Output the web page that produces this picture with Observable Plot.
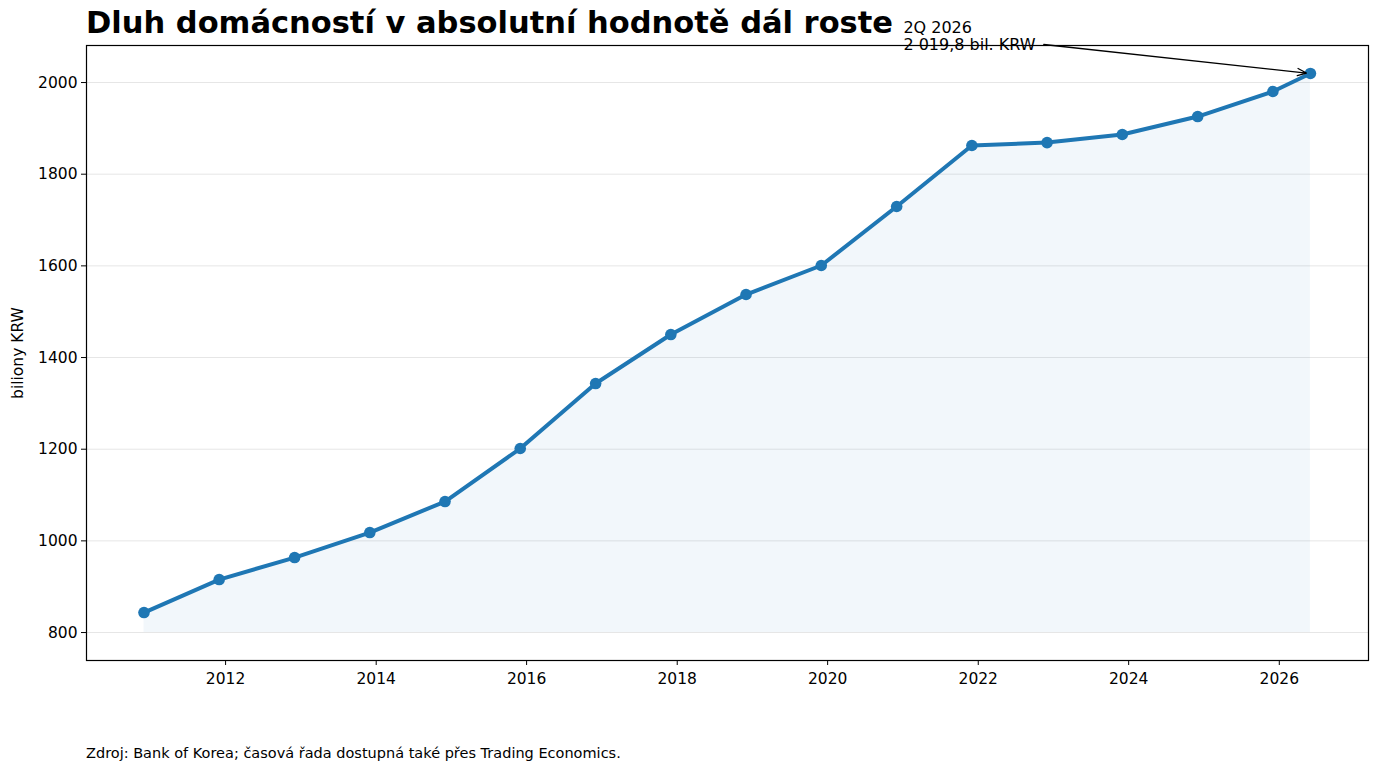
<!DOCTYPE html>
<html>
<head>
<meta charset="utf-8">
<script src="https://cdn.jsdelivr.net/npm/d3@7"></script>
<script src="https://cdn.jsdelivr.net/npm/@observablehq/plot@0.6"></script>
<style>
  html, body { margin: 0; padding: 0; background: #fff; }
  body { width: 1380px; height: 774px; position: relative; overflow: hidden; font-family: "DejaVu Sans", sans-serif; }
  #title { position: absolute; left: 86px; top: 5px; font-size: 30.5px; font-weight: bold; color: #000; white-space: nowrap; }
  #chart { position: absolute; left: 0; top: 0; }
  #caption { position: absolute; left: 86px; top: 745px; font-size: 14.5px; color: #000; white-space: nowrap; }
</style>
</head>
<body>
<div id="chart"></div>
<div id="title">Dluh domácností v absolutní hodnotě dál roste</div>
<div id="caption">Zdroj: Bank of Korea; časová řada dostupná také přes Trading Economics.</div>
<script>
const periods = ["2010-12-01","2011-12-01","2012-12-01","2013-12-01","2014-12-01","2015-12-01","2016-12-01","2017-12-01","2018-12-01","2019-12-01","2020-12-01","2021-12-01","2022-12-01","2023-12-01","2024-12-01","2025-12-01","2026-06-01"];
const debt = [843.6, 915.6, 963.6, 1018.2, 1085.8, 1201.5, 1343.3, 1450.2, 1537.5, 1600.8, 1729.5, 1862.6, 1869.0, 1886.6, 1925.8, 1980.4, 2019.8];
const yTicks = [800, 1000, 1200, 1400, 1600, 1800, 2000];
const annotationText = "2Q 2026\n2 019,8 bil. KRW";

const data = periods.map((p, i) => ({date: new Date(p + "T00:00:00Z"), value: debt[i]}));
const last = data[data.length - 1];
const blue = "#1f77b4";

const chart = Plot.plot({
  width: 1380,
  height: 700,
  marginTop: 45,
  marginLeft: 86,
  marginRight: 12,
  marginBottom: 40,
  style: {fontFamily: "DejaVu Sans, sans-serif", fontSize: "15.5px", color: "#000", background: "#fff"},
  x: {
    type: "utc",
    domain: [new Date("2010-02-25T00:00:00Z"), new Date("2027-03-10T00:00:00Z")],
    label: null
  },
  y: {
    domain: [739, 2080.8],
    label: "biliony KRW"
  },
  marks: [
    Plot.ruleY(yTicks, {stroke: "#e6e6e6", strokeWidth: 1, strokeOpacity: 1}),
    Plot.areaY(data, {x: "date", y1: 800, y2: "value", fill: blue, fillOpacity: 0.06, curve: "linear"}),
    Plot.line(data, {x: "date", y: "value", stroke: blue, strokeWidth: 4, curve: "linear"}),
    Plot.dot(data, {x: "date", y: "value", r: 5.8, fill: blue, stroke: null}),
    Plot.frame({stroke: "#000", strokeWidth: 1.2}),
    Plot.axisX({ticks: d3.utcYear.every(2), tickFormat: d3.utcFormat("%Y"), tickSize: 5, tickPadding: 7, stroke: "#000", fontSize: 15.5, label: null}),
    Plot.axisY({ticks: yTicks, tickFormat: d3.format("d"), tickSize: 5, tickPadding: 4, label: "biliony KRW", labelAnchor: "center", labelArrow: "none", labelOffset: 75, fontSize: 15.5}),
    Plot.arrow([last], {
      x1: () => new Date("2022-11-15T00:00:00Z"),
      y1: () => 2083,
      x2: "date",
      y2: "value",
      stroke: "#000",
      strokeWidth: 1.3,
      headLength: 11,
      headAngle: 45,
      insetEnd: 4,
      clip: false
    }),
    Plot.text([last], {
      x: "date",
      y: "value",
      text: () => annotationText,
      textAnchor: "start",
      lineAnchor: "bottom",
      dx: -407,
      dy: -23,
      fontSize: 16,
      fill: "#000",
      lineHeight: 1.1,
      clip: false
    })
  ]
});
document.getElementById("chart").appendChild(chart);
</script>
</body>
</html>
